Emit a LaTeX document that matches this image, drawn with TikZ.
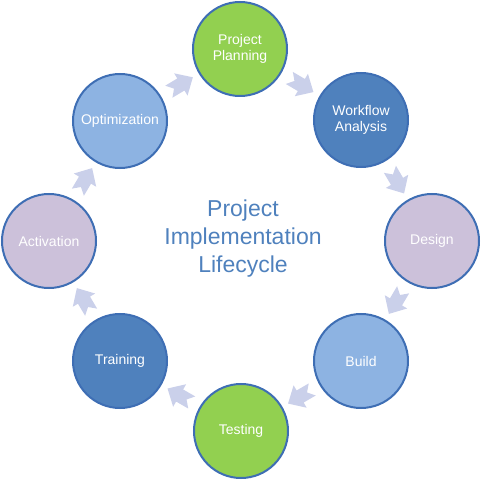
\documentclass[tikz,border=0pt]{standalone}
\usepackage{fontspec}
\setmainfont{Liberation Sans}
\definecolor{stepgreen}{RGB}{146,208,80}
\definecolor{stepdark}{RGB}{79,129,189}
\definecolor{steplilac}{RGB}{204,193,218}
\definecolor{steplight}{RGB}{141,179,226}
\definecolor{stepline}{RGB}{62,110,180}
\definecolor{arrowfill}{RGB}{202,208,234}
\definecolor{titleblue}{RGB}{79,129,189}
\begin{document}
\begin{tikzpicture}[x=1pt,y=1pt,
stepnode/.style={circle,draw=stepline,line width=2pt,minimum size=94pt,inner sep=0pt,
  text=white,align=center,font=\fontsize{14}{16}\selectfont},
notcharrow/.pic={\fill[arrowfill] (-13,7) -- (1,7) -- (1,13) -- (15,0) -- (1,-13) -- (1,-7) -- (-13,-7) -- (-7,0) -- cycle;},
title/.style={text=titleblue,align=center,font=\fontsize{23}{28}\selectfont}]

\useasboundingbox (0,0) rectangle (483,483);

\node (plan) at (240,434) [stepnode,fill=stepgreen] {Project\\Planning};
\node (flow) at (361,363) [stepnode,fill=stepdark] {Workflow\\Analysis};
\node (design) at (432,242) [stepnode,fill=steplilac] {Design};
\node (build) at (361,122) [stepnode,fill=steplight] {Build};
\node (test) at (241,52) [stepnode,fill=stepgreen] {Testing};
\node (train) at (120,122) [stepnode,fill=stepdark] {Training};
\node (activ) at (49,242) [stepnode,fill=steplilac] {Activation};
\node (optim) at (120,362) [stepnode,fill=steplight] {Optimization};

\node (life) at (243,244) [title] {Project\\Implementation\\Lifecycle};

\path (plan) -- pic[sloped,allow upside down] {notcharrow} (flow);
\path (flow) -- pic[sloped,allow upside down] {notcharrow} (design);
\path (design) -- pic[sloped,allow upside down] {notcharrow} (build);
\path (build) -- pic[sloped,allow upside down] {notcharrow} (test);
\path (test) -- pic[sloped,allow upside down] {notcharrow} (train);
\path (train) -- pic[sloped,allow upside down] {notcharrow} (activ);
\path (activ) -- pic[sloped,allow upside down] {notcharrow} (optim);
\path (optim) -- pic[sloped,allow upside down] {notcharrow} (plan);

\end{tikzpicture}
\end{document}
